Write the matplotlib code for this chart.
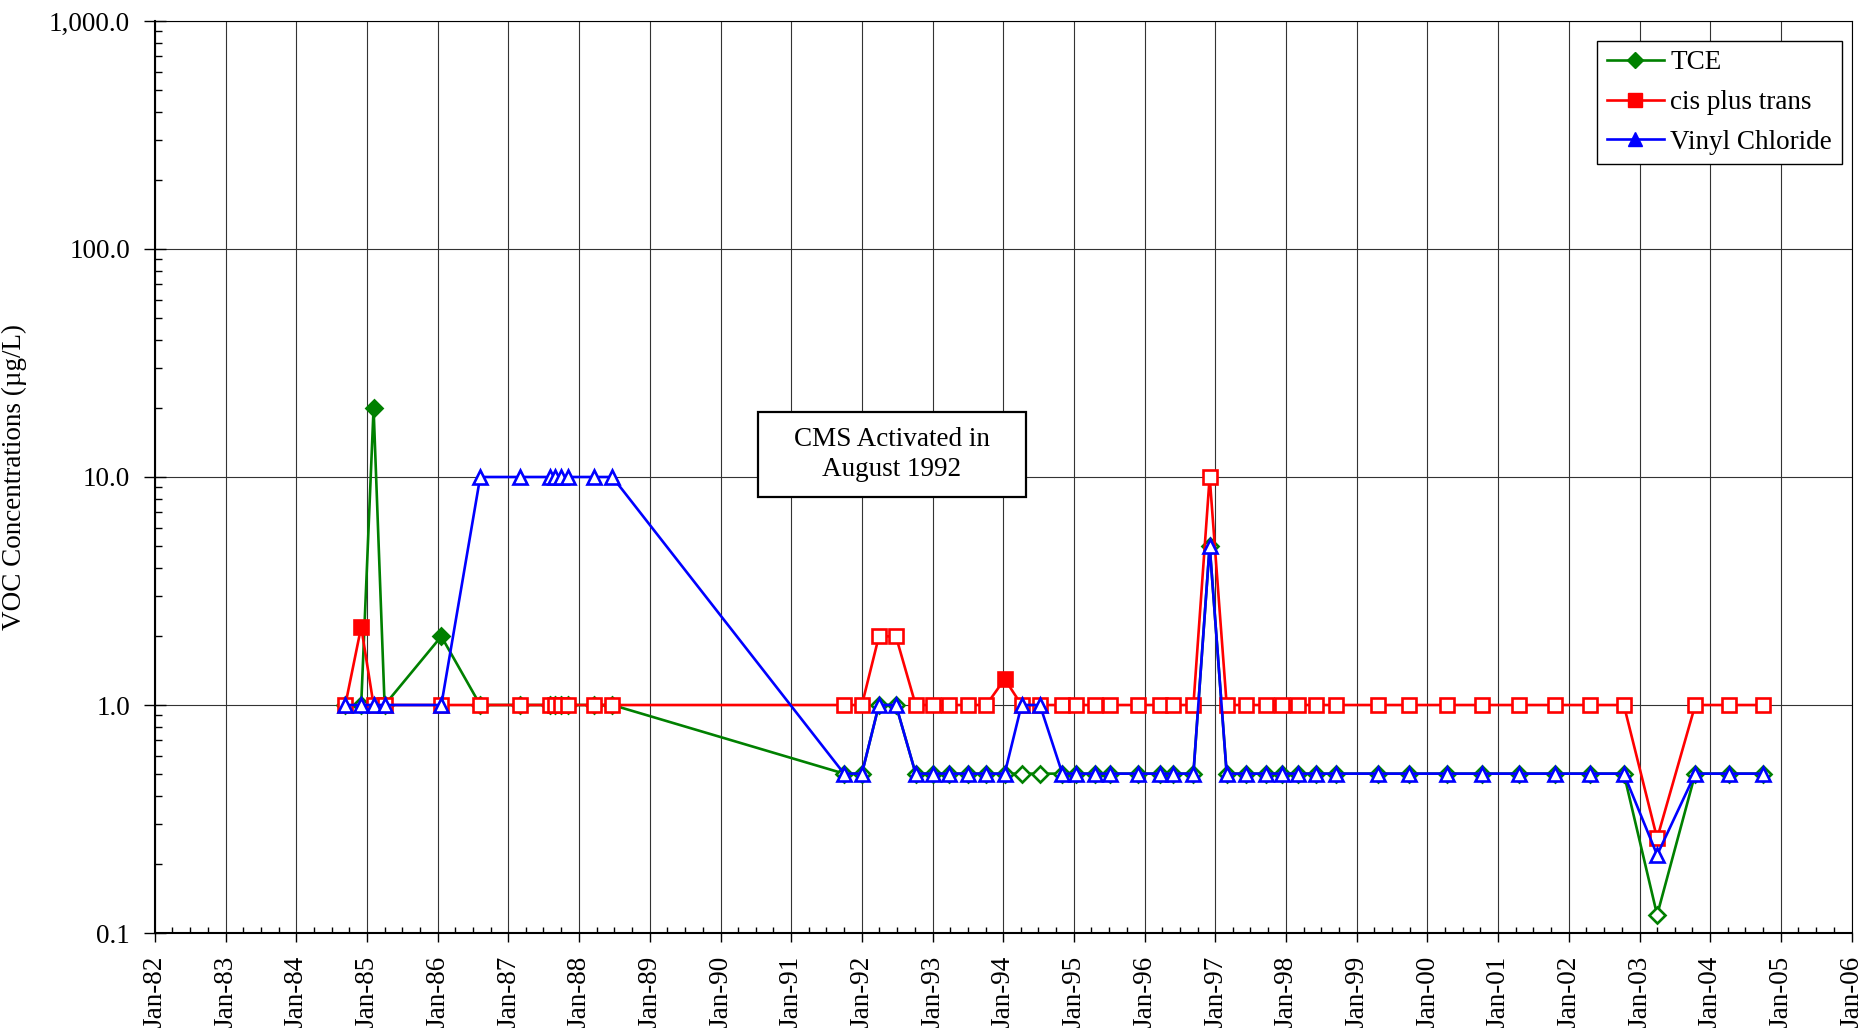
import matplotlib
matplotlib.use("Agg")
import matplotlib.pyplot as plt
import matplotlib.dates as mdates
from matplotlib.lines import Line2D
from matplotlib.patches import Rectangle
from matplotlib.ticker import LogLocator, FuncFormatter, NullFormatter
import numpy as np
import pandas as pd

# sampling dates (shared by all three compounds)
sample_dates = [
    "1984-09-10", "1984-12-01", "1985-02-03", "1985-04-01", "1986-01-19",
    "1986-08-08", "1987-02-28", "1987-08-04", "1987-08-29", "1987-10-01",
    "1987-11-06", "1988-03-17", "1988-06-21", "1991-10-01", "1992-01-01",
    "1992-03-29", "1992-06-25", "1992-10-05", "1993-01-05", "1993-03-25",
    "1993-07-02", "1993-10-05", "1994-01-08", "1994-04-05", "1994-07-09",
    "1994-11-02", "1995-01-12", "1995-04-20", "1995-07-05", "1995-11-28",
    "1996-03-21", "1996-05-26", "1996-09-09", "1996-12-02", "1997-02-28",
    "1997-06-10", "1997-09-17", "1997-12-10", "1998-03-04", "1998-06-03",
    "1998-09-17", "1999-04-20", "1999-09-27", "2000-04-12", "2000-10-08",
    "2001-04-20", "2001-10-20", "2002-04-20", "2002-10-12", "2003-04-02",
    "2003-10-16", "2004-04-08", "2004-10-01",
]

# concentrations (ug/L)
tce = ([1, 1, 20, 1, 2] + [1] * 8 + [0.5, 0.5, 1, 1] + [0.5] * 16 + [5]
       + [0.5] * 15 + [0.12] + [0.5] * 3)
cis_trans = ([1, 2.2] + [1] * 13 + [2, 2] + [1] * 5 + [1.3] + [1] * 10 + [10]
             + [1] * 15 + [0.26] + [1] * 3)
vinyl_chloride = ([1] * 5 + [10] * 8 + [0.5, 0.5, 1, 1] + [0.5] * 6 + [1, 1]
                  + [0.5] * 8 + [5] + [0.5] * 15 + [0.22] + [0.5] * 3)

# detected values are drawn with filled markers, non-detects hollow
tce_detected = [2, 4]
cis_detected = [1, 22]
vc_detected = []

series_names = ["TCE", "cis plus trans", "Vinyl Chloride"]
series_colors = ["#008000", "#FF0000", "#0000FF"]
series_markers = ["D", "s", "^"]
marker_sizes = [8.5, 10, 10.5]

tick_years = list(range(1982, 2007))


def draw_series(ax, dates, values, detected, color, marker, ms, z):
    values = np.array(values, dtype=float)
    det = np.zeros(len(values), dtype=bool)
    det[detected] = True
    ax.plot(dates, values, color=color, lw=1.9, zorder=z)
    ax.plot(dates[~det], values[~det], ls="none", marker=marker, ms=ms,
            mfc="white", mec=color, mew=1.9, zorder=z)
    if det.any():
        ax.plot(dates[det], values[det], ls="none", marker=marker, ms=ms,
                mfc=color, mec=color, mew=1.9, zorder=z)


def main():
    plt.rcParams["font.family"] = ["Liberation Serif", "DejaVu Serif"]
    plt.rcParams["font.size"] = 19

    fig = plt.figure(figsize=(18.66, 10.28), dpi=100)
    ax = fig.add_axes([0.0831, 0.0924, 0.9092, 0.8872])

    dates = pd.to_datetime(sample_dates).values
    all_values = [tce, cis_trans, vinyl_chloride]
    all_detected = [tce_detected, cis_detected, vc_detected]
    for i in range(3):
        draw_series(ax, dates, all_values[i], all_detected[i],
                    series_colors[i], series_markers[i], marker_sizes[i], 3 + i)

    ax.set_yscale("log")
    ax.set_ylim(0.1, 1000)
    ax.set_xlim(pd.Timestamp("1982-01-01"), pd.Timestamp("2006-01-01"))

    # x axis: yearly labels, quarterly minor ticks
    ax.set_xticks(pd.to_datetime([f"{y}-01-01" for y in tick_years]))
    ax.xaxis.set_major_formatter(mdates.DateFormatter("%b-%y"))
    ax.xaxis.set_minor_locator(mdates.MonthLocator(bymonth=[4, 7, 10]))
    plt.setp(ax.get_xticklabels(), rotation=90)

    ax.yaxis.set_major_locator(LogLocator(base=10))
    ax.yaxis.set_minor_locator(LogLocator(base=10, subs=np.arange(2, 10)))
    ax.yaxis.set_minor_formatter(NullFormatter())
    ax.yaxis.set_major_formatter(FuncFormatter(lambda v, p: f"{v:,.1f}"))

    ax.tick_params(axis="x", which="major", direction="out", length=6.5,
                   width=1, pad=10, labelsize=19.5)
    ax.tick_params(axis="x", which="minor", direction="in", length=4.5, width=1)
    ax.tick_params(axis="y", which="major", direction="inout", length=16,
                   width=1, pad=10, labelsize=19.5)
    ax.tick_params(axis="y", which="minor", direction="in", length=5, width=1)

    ax.grid(True, which="major", color="#333333", lw=0.8)
    for side in ["left", "bottom"]:
        ax.spines[side].set_linewidth(1.5)
    for side in ["top", "right"]:
        ax.spines[side].set_linewidth(0.8)

    ax.set_ylabel("VOC Concentrations (µg/L)", fontsize=19.5, labelpad=16)

    # note box
    ax.add_patch(Rectangle((0.3554, 0.4777), 0.158, 0.0939, transform=ax.transAxes,
                           fc="white", ec="black", lw=1.6, zorder=8))
    ax.text(0.4344, 0.5247, "CMS Activated in\nAugust 1992", transform=ax.transAxes,
            ha="center", va="center", fontsize=19.5, linespacing=1.3, zorder=9)

    # legend
    handles = [Line2D([], [], color=series_colors[i], lw=1.9, marker=series_markers[i],
                      ms=marker_sizes[i] - 0.5, mfc=series_colors[i], mec=series_colors[i])
               for i in range(3)]
    legend = ax.legend(handles, series_names, loc="upper right",
                       bbox_to_anchor=(0.9941, 0.9784), borderaxespad=0,
                       fancybox=False, edgecolor="black", framealpha=1,
                       fontsize=19.5, handlelength=2.1, handletextpad=0.25,
                       borderpad=0.35, labelspacing=0.55)
    legend.get_frame().set_linewidth(1.0)

    fig.savefig("out.png", dpi=100)


if __name__ == "__main__":
    main()
